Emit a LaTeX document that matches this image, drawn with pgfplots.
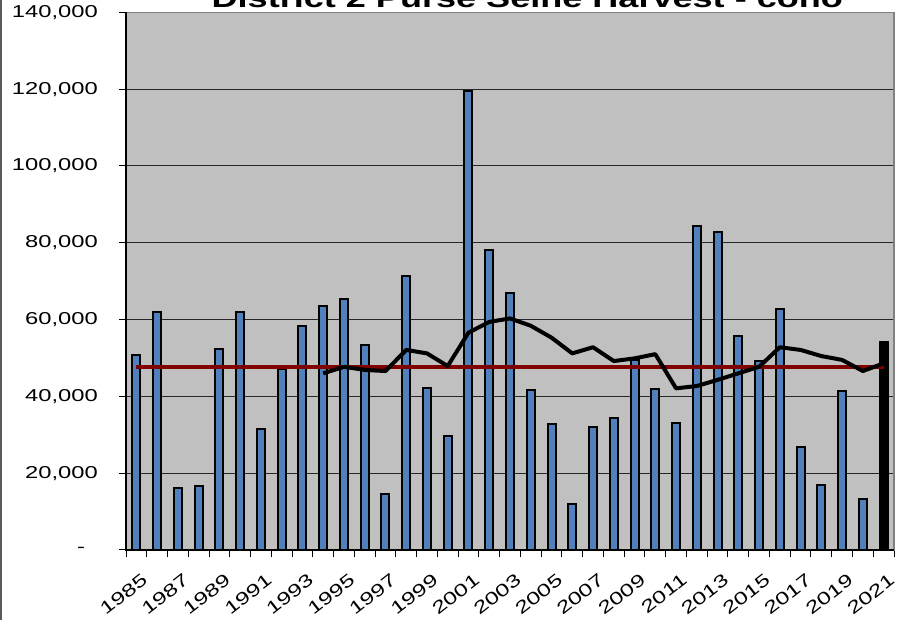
\documentclass[border=0pt]{standalone}
\usepackage{fontspec}
\setmainfont{Liberation Sans}[FakeStretch=1.38]
\usepackage{pgfplots}
\usepackage{pgfplotstable}
\pgfplotsset{compat=1.18}

\definecolor{plotbg}{HTML}{C0C0C0}
\definecolor{barblue}{HTML}{4F81BD}
\definecolor{avgred}{HTML}{800000}
\definecolor{framegray}{HTML}{808080}

% harvest per year (2021 drawn separately in black)
\pgfplotstableread{
year harvest
1985 50700
1986 61900
1987 16200
1988 16600
1989 52300
1990 61900
1991 31500
1992 47200
1993 58400
1994 63600
1995 65300
1996 53300
1997 14600
1998 71400
1999 42300
2000 29600
2001 119400
2002 78000
2003 66800
2004 41700
2005 32800
2006 12100
2007 32000
2008 34500
2009 49400
2010 41900
2011 33100
2012 84400
2013 82800
2014 55600
2015 49300
2016 62800
2017 26700
2018 16900
2019 41300
2020 13200
}\harvest

% running average
\pgfplotstableread{
year avg
1994 46000
1995 47700
1996 46900
1997 46600
1998 52100
1999 51200
2000 47900
2001 56600
2002 59400
2003 60300
2004 58400
2005 55300
2006 51200
2007 52800
2008 49200
2009 49900
2010 51000
2011 42100
2012 42700
2013 44300
2014 46000
2015 47700
2016 52800
2017 52100
2018 50500
2019 49500
2020 46600
2021 48600
}\runavg

\begin{document}
\begin{tikzpicture}
\begin{axis}[
    at={(94.5pt,52.5pt)}, anchor=south west,
    scale only axis,
    width=576pt, height=403.2pt,
    xmin=1984.5, xmax=2021.5,
    ymin=0, ymax=140000,
    axis background/.style={fill=plotbg},
    axis line style={draw=framegray, line width=1.25pt},
    xtick={1985,1987,...,2021},
    minor xtick={1984.5,1985.5,...,2021.5},
    ytick={20000,40000,...,140000},
    yticklabels={{20,000},{40,000},{60,000},{80,000},{100,000},{120,000},{140,000}},
    extra y ticks={0},
    extra y tick labels={-},
    extra y tick style={yticklabel style={xshift=-9.5pt}},
    scaled y ticks=false,
    xtick pos=bottom, ytick pos=left,
    tick align=outside,
    major tick length=5.25pt, minor tick length=5.25pt,
    tick style={black, line width=0.75pt},
    major x tick style={draw=none},
    ymajorgrids,
    major grid style={black!85, line width=0.75pt},
    /pgf/number format/assume math mode=true,
    xticklabel style={xshift=3.5pt, yshift=-11.5pt, rotate=38,
        anchor=north east, inner sep=0pt,
        font=\fontsize{13.2}{15}\selectfont,
        /pgf/number format/1000 sep={}},
    yticklabel style={anchor=east, inner sep=0pt,
        font=\fontsize{12.9}{14}\selectfont, xshift=-15.75pt},
    title={District 2 Purse Seine Harvest - coho},
    every axis title/.style={at={(0.5,1)}, anchor=base, xshift=13pt, yshift=4pt,
        font=\bfseries\fontsize{19.6}{22}\selectfont},
    after end axis/.code={
        \draw[black, line width=1.25pt] (rel axis cs:0,1) -- (rel axis cs:0,0) -- (rel axis cs:1,0);
    },
]
\addplot[ybar, bar width=6pt, bar shift=0pt, fill=barblue, draw=black, line width=1.5pt]
    table[x=year, y=harvest] {\harvest};
\addplot[ybar, bar width=6pt, bar shift=0pt, fill=black, draw=black, line width=1.5pt]
    coordinates {(2021,54100)};
\addplot[avgred, line width=3pt, no markers] coordinates {(1985,47580) (2021,47580)};
\addplot[black, line width=3pt, no markers, line join=round] table[x=year, y=avg] {\runavg};
\end{axis}
\draw[framegray!70!black, line width=1.5pt] (0.75pt,0) -- (0.75pt,465pt);
\pgfresetboundingbox
\useasboundingbox (0,0) rectangle (679.5pt,465pt);
\end{tikzpicture}
\end{document}
